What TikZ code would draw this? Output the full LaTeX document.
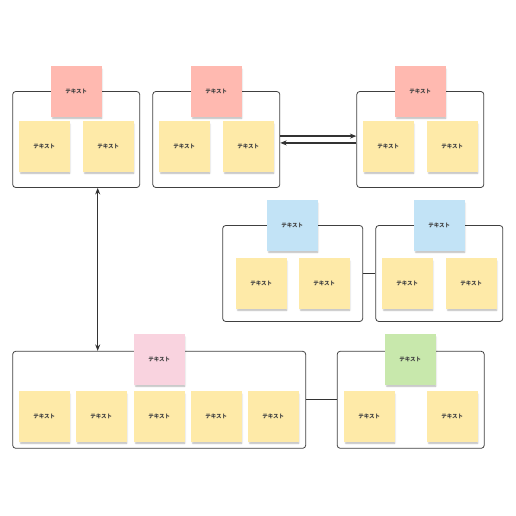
\documentclass[tikz,border=0pt]{standalone}
\usepackage{fontspec}
\newfontfamily\cjk{Noto Sans CJK JP}
\usetikzlibrary{shadows.blur, arrows.meta}

\definecolor{memoyellow}{HTML}{FEEAA8}
\definecolor{memored}{HTML}{FFB9B0}
\definecolor{memopink}{HTML}{F9D3DF}
\definecolor{memoblue}{HTML}{C2E3F6}
\definecolor{memogreen}{HTML}{C8E8AC}

\tikzset{
    group/.style={draw=black!75, line width=0.8pt, rounded corners=3pt, inner sep=0pt},
    note/.style={minimum size=51pt, inner sep=0pt, font=\cjk\bfseries\fontsize{5.5}{6}\selectfont, text=black!75,
        blur shadow={shadow xshift=1pt, shadow yshift=-2.5pt, shadow opacity=30, shadow scale=0.96}},
    memo/.style={note, fill=memoyellow},
    link/.style={line width=1.5pt, draw=black!80},
}

\begin{document}
\begin{tikzpicture}[x=1pt, y=-1pt, >={Stealth[length=6.5pt, width=5pt]}]
    \useasboundingbox (0,0) rectangle (516,516);

    % Group Boxes
    \node[group, minimum width=127pt, minimum height=96pt] (g1) at (76.2,139.5) {};
    \node[group, minimum width=127pt, minimum height=96pt] (g2) at (216.3,139.5) {};
    \node[group, minimum width=127pt, minimum height=96pt] (g3) at (420.3,139.5) {};
    \node[group, minimum width=140pt, minimum height=96pt] (g4) at (292.7,273.5) {};
    \node[group, minimum width=127pt, minimum height=96pt] (g5) at (439.3,273.5) {};
    \node[group, minimum width=293pt, minimum height=97pt] (g6) at (159.2,399.8) {};
    \node[group, minimum width=147pt, minimum height=97pt] (g7) at (410.7,399.8) {};

    % Connectors
    \coordinate (a1) at ([xshift=21.5pt]g1.south);
    \draw[<->, link] (a1) -- (a1 |- g6.north);
    \draw[->, link] ([yshift=3.4pt]g2.east) -- ([yshift=3.4pt]g3.west);
    \draw[->, link] ([yshift=-3.4pt]g3.west) -- ([yshift=-3.4pt]g2.east);
    \draw[link, line width=1.2pt] (g4.east) -- (g5.west);
    \draw[link, line width=1.2pt] (g6.east) -- (g7.west);

    % Header Notes
    \node[note, fill=memored] (h1) at (76.3,91.3) {テキスト};
    \node[note, fill=memored] (h2) at (216.3,91.3) {テキスト};
    \node[note, fill=memored] (h3) at (420.3,91.3) {テキスト};
    \node[note, fill=memoblue] (h4) at (292.3,225.3) {テキスト};
    \node[note, fill=memoblue] (h5) at (439.3,225.3) {テキスト};
    \node[note, fill=memopink] (h6) at (159.3,359.2) {テキスト};
    \node[note, fill=memogreen] (h7) at (410.3,359.2) {テキスト};

    % Memo Notes
    \foreach \x [count=\i] in {44.3,108.3,184.3,248.3,388.3,452.3} {
        \node[memo] (m\i) at (\x,146.3) {テキスト};
    }
    \foreach \x [count=\i] in {261.3,324.3,407.3,471.3} {
        \node[memo] (n\i) at (\x,283.3) {テキスト};
    }
    \foreach \x [count=\i] in {44.3,101.3,159.3,216.3,273.3,369.3,452.3} {
        \node[memo] (k\i) at (\x,416.3) {テキスト};
    }
\end{tikzpicture}
\end{document}
